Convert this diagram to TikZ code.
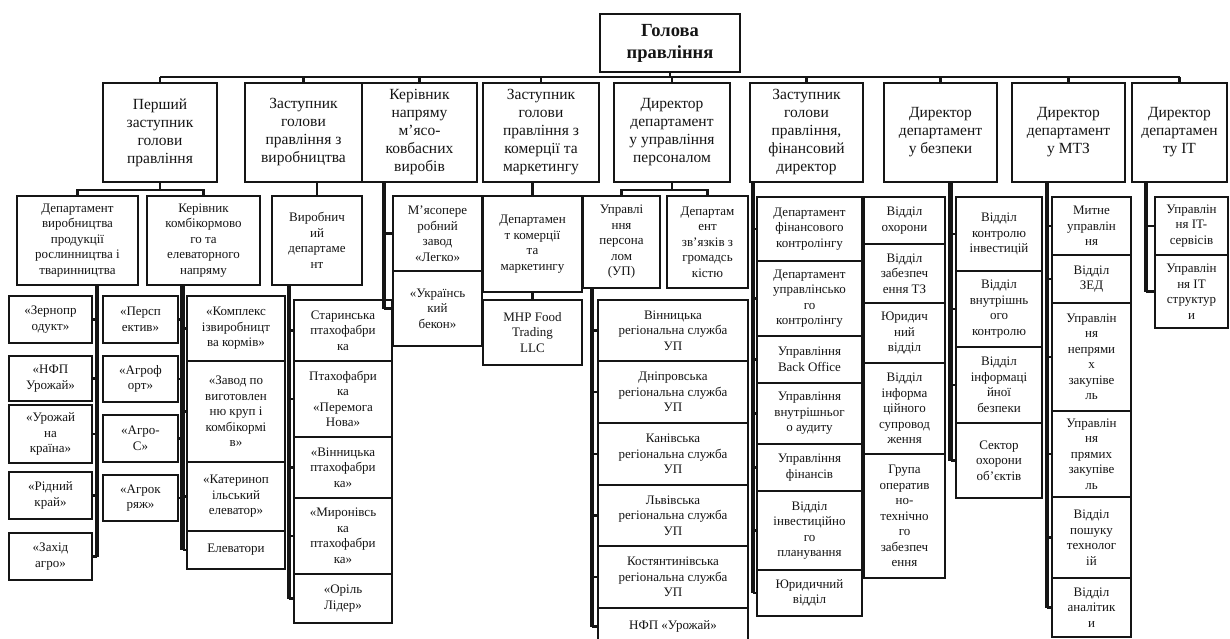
\documentclass[tikz,border=0pt]{standalone}
\usepackage{fontspec}
\setmainfont{Liberation Serif}
\usetikzlibrary{calc}
\definecolor{Ink}{HTML}{151515}
\tikzset{
  unit/.style={draw=Ink, line width=2.8pt, fill=white, text=Ink, align=center,
    inner sep=1pt, font=\fontsize{13}{15.5}\selectfont},
  head/.style={font=\fontsize{15.5}{18}\selectfont},
  chief/.style={font=\bfseries\fontsize{18.5}{22}\selectfont},
  link/.style={draw=Ink, line width=2.8pt},
  trunk/.style={draw=Ink, line width=4.3pt}
}
\newcommand{\orgbox}[7][]{%
  \node[unit,#1,minimum width={#5-#3},minimum height={#6-#4}]
    (#2) at ({(#3+#5)/2},{(#4+#6)/2}) {#7};}

\begin{document}
\begin{tikzpicture}[x=1pt,y=-1pt]
  \fill[white] (0,0) rectangle (1230,639);
  \useasboundingbox (0,0) rectangle (1230,639);

  \orgbox[chief]{chair}{600}{14}{740}{72}{Голова\\правління}

  \orgbox[head]{first}{103}{83}{217}{182}{Перший\\заступник\\голови\\правління}
  \orgbox[head]{zvyr}{245}{83}{362}{182}{Заступник\\голови\\правління з\\виробництва}
  \orgbox[head]{mkov}{362}{83}{477}{182}{Керівник\\напряму\\м’ясо-\\ковбасних\\виробів}
  \orgbox[head]{zkom}{483}{83}{599}{182}{Заступник\\голови\\правління з\\комерції та\\маркетингу}
  \orgbox[head]{dup}{614}{83}{730}{182}{Директор\\департамент\\у управління\\персоналом}
  \orgbox[head]{zfin}{750}{83}{863}{182}{Заступник\\голови\\правління,\\фінансовий\\директор}
  \orgbox[head]{bezp}{884}{83}{997}{182}{Директор\\департамент\\у безпеки}
  \orgbox[head]{mtz}{1012}{83}{1125}{182}{Директор\\департамент\\у МТЗ}
  \orgbox[head]{it}{1132}{83}{1227}{182}{Директор\\департамен\\ту IT}

  \orgbox{dvyr}{17}{196}{138}{285}{Департамент\\виробництва\\продукції\\рослинництва і\\тваринництва}
  \orgbox{kkomb}{147}{196}{260}{285}{Керівник\\комбікормово\\го та\\елеваторного\\напряму}
  \orgbox{vyrdep}{272}{196}{362}{285}{Виробнич\\ий\\департаме\\нт}
  \orgbox{legko}{393}{196}{482}{271}{М’ясопере\\робний\\завод\\«Легко»}
  \orgbox{bekon}{393}{271}{482}{346}{«Українсь\\кий\\бекон»}
  \orgbox{dkom}{483}{196}{582}{292}{Департамен\\т комерції\\та\\маркетингу}
  \orgbox{mhp}{483}{300}{582}{365}{MHP Food\\Trading\\LLC}
  \orgbox{upers}{583}{196}{660}{288}{Управлі\\ння\\персона\\лом\\(УП)}
  \orgbox{dzv}{667}{196}{748}{288}{Департам\\ент\\зв’язків з\\громадсь\\кістю}

  \orgbox{zern}{9}{296}{92}{343}{«Зернопр\\одукт»}
  \orgbox{nfp}{9}{356}{92}{401}{«НФП\\Урожай»}
  \orgbox{urozh}{9}{405}{92}{463}{«Урожай\\на\\країна»}
  \orgbox{ridn}{9}{472}{92}{519}{«Рідний\\край»}
  \orgbox{zakh}{9}{533}{92}{580}{«Захід\\агро»}

  \orgbox{persp}{103}{296}{178}{343}{«Персп\\ектив»}
  \orgbox{agrof}{103}{356}{178}{402}{«Агроф\\орт»}
  \orgbox{agros}{103}{415}{178}{462}{«Агро-\\С»}
  \orgbox{agrok}{103}{475}{178}{521}{«Агрок\\ряж»}

  \orgbox{kompl}{187}{296}{285}{361}{«Комплекс\\ізвиробницт\\ва кормів»}
  \orgbox{zavod}{187}{361}{285}{462}{«Завод по\\виготовлен\\ню круп і\\комбікормі\\в»}
  \orgbox{kater}{187}{462}{285}{531}{«Катеринoп\\ільський\\елеватор»}
  \orgbox{elev}{187}{531}{285}{569}{Елеватори}

  \orgbox{star}{294}{300}{392}{361}{Старинська\\птахофабри\\ка}
  \orgbox{peremoga}{294}{361}{392}{437}{Птахофабри\\ка\\«Перемога\\Нова»}
  \orgbox{vinpt}{294}{437}{392}{498}{«Вінницька\\птахофабри\\ка»}
  \orgbox{myron}{294}{498}{392}{574}{«Миронівсь\\ка\\птахофабри\\ка»}
  \orgbox{oril}{294}{574}{392}{623}{«Оріль\\Лідер»}

  \orgbox{vinr}{598}{300}{748}{361}{Вінницька\\регіональна служба\\УП}
  \orgbox{dnip}{598}{361}{748}{423}{Дніпровська\\регіональна служба\\УП}
  \orgbox{kaniv}{598}{423}{748}{485}{Канівська\\регіональна служба\\УП}
  \orgbox{lviv}{598}{485}{748}{546}{Львівська\\регіональна служба\\УП}
  \orgbox{kost}{598}{546}{748}{608}{Костянтинівська\\регіональна служба\\УП}
  \orgbox{nfpur}{598}{608}{748}{645}{НФП «Урожай»}

  \orgbox{fk}{757}{197}{862}{261}{Департамент\\фінансового\\контролінгу}
  \orgbox{uk}{757}{261}{862}{336}{Департамент\\управлінсько\\го\\контролінгу}
  \orgbox{bo}{757}{336}{862}{383}{Управління\\Back Office}
  \orgbox{aud}{757}{383}{862}{444}{Управління\\внутрішньог\\о аудиту}
  \orgbox{fin}{757}{444}{862}{491}{Управління\\фінансів}
  \orgbox{inv}{757}{491}{862}{570}{Відділ\\інвестиційно\\го\\планування}
  \orgbox{yur}{757}{570}{862}{616}{Юридичний\\відділ}

  \orgbox{okh}{864}{197}{945}{244}{Відділ\\охорони}
  \orgbox{tz}{864}{244}{945}{303}{Відділ\\забезпеч\\ення ТЗ}
  \orgbox{yurb}{864}{303}{945}{363}{Юридич\\ний\\відділ}
  \orgbox{info}{864}{363}{945}{454}{Відділ\\інформа\\ційного\\супровод\\ження}
  \orgbox{grupa}{864}{454}{945}{578}{Група\\оператив\\но-\\технічно\\го\\забезпеч\\ення}

  \orgbox{kinv}{956}{197}{1042}{271}{Відділ\\контролю\\інвестицій}
  \orgbox{vnk}{956}{271}{1042}{347}{Відділ\\внутрішнь\\ого\\контролю}
  \orgbox{ib}{956}{347}{1042}{423}{Відділ\\інформаці\\йної\\безпеки}
  \orgbox{sekt}{956}{423}{1042}{498}{Сектор\\охорони\\об’єктів}

  \orgbox{mytne}{1052}{197}{1131}{255}{Митне\\управлін\\ня}
  \orgbox{zed}{1052}{255}{1131}{303}{Відділ\\ЗЕД}
  \orgbox{nepr}{1052}{303}{1131}{411}{Управлін\\ня\\непрями\\х\\закупіве\\ль}
  \orgbox{pryam}{1052}{411}{1131}{497}{Управлін\\ня\\прямих\\закупіве\\ль}
  \orgbox{posh}{1052}{497}{1131}{578}{Відділ\\пошуку\\технолог\\ій}
  \orgbox{anal}{1052}{578}{1131}{637}{Відділ\\аналітик\\и}

  \orgbox{its}{1155}{197}{1228}{255}{Управлін\\ня IT-\\сервісів}
  \orgbox{itst}{1155}{255}{1228}{328}{Управлін\\ня IT\\структур\\и}

  \coordinate (bus) at (0,77);
  \coordinate (lvl) at (0,190);
  \draw[link] (chair.south) -- (chair.south |- bus);
  \draw[link] (first.north |- bus) -- (it.north |- bus);
  \foreach \n in {first,zvyr,mkov,zkom,dup,zfin,bezp,mtz,it}
    \draw[link] (\n.north) -- (\n.north |- bus);

  \draw[link] (first.south) -- (first.south |- lvl);
  \draw[link] (dvyr.north) |- (first.south |- lvl) -| (kkomb.north);
  \draw[link] (vyrdep.north) -- (vyrdep.north |- zvyr.south);
  \draw[link] (dkom.north) -- (dkom.north |- zkom.south);
  \draw[link] (mhp.north) -- (mhp.north |- dkom.south);
  \draw[link] (dup.south) -- (dup.south |- lvl);
  \draw[link] (upers.north) |- (dup.south |- lvl) -| (dzv.north);

  \coordinate (ta) at (97,0);
  \draw[trunk] (ta |- dvyr.south) -- (ta |- zakh.east);
  \foreach \c in {zern,nfp,urozh,ridn,zakh}
    \draw[link] (ta |- \c.east) -- (\c.east);

  \coordinate (tb) at (182.5,0);
  \draw[trunk] (tb |- kkomb.south) -- (tb |- elev.west);
  \foreach \c in {persp,agrof,agros,agrok}
    \draw[link] (tb |- \c.east) -- (\c.east);
  \foreach \c in {kompl,zavod,kater,elev}
    \draw[link] (tb |- \c.west) -- (\c.west);

  \coordinate (tc) at (289,0);
  \draw[trunk] (tc |- vyrdep.south) -- (tc |- oril.west);
  \foreach \c in {star,peremoga,vinpt,myron,oril}
    \draw[link] (tc |- \c.west) -- (\c.west);

  \coordinate (td) at (384,0);
  \draw[trunk] (td |- mkov.south) -- (td |- bekon.west);
  \foreach \c in {legko,bekon}
    \draw[link] (td |- \c.west) -- (\c.west);

  \coordinate (te) at (592,0);
  \draw[trunk] (te |- upers.south) -- (te |- nfpur.west);
  \foreach \c in {vinr,dnip,kaniv,lviv,kost,nfpur}
    \draw[link] (te |- \c.west) -- (\c.west);

  \coordinate (tf) at (753,0);
  \draw[trunk] (tf |- zfin.south) -- (tf |- yur.west);
  \foreach \c in {fk,uk,bo,aud,fin,inv,yur}
    \draw[link] (tf |- \c.west) -- (\c.west);

  \coordinate (tg) at (950.5,0);
  \draw[trunk] (tg |- bezp.south) -- (tg |- sekt.west);
  \foreach \c in {kinv,vnk,ib,sekt}
    \draw[link] (tg |- \c.west) -- (\c.west);

  \coordinate (th) at (1047,0);
  \draw[trunk] (th |- mtz.south) -- (th |- anal.west);
  \foreach \c in {mytne,zed,nepr,pryam,posh,anal}
    \draw[link] (th |- \c.west) -- (\c.west);

  \coordinate (ti) at (1146,0);
  \draw[trunk] (ti |- it.south) -- (ti |- itst.west);
  \foreach \c in {its,itst}
    \draw[link] (ti |- \c.west) -- (\c.west);
\end{tikzpicture}
\end{document}
